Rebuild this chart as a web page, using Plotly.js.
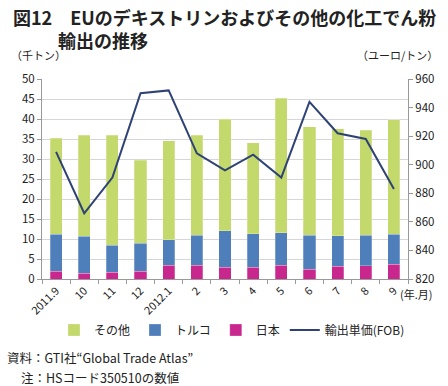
<!DOCTYPE html>
<html><head><meta charset="utf-8">
<script src="https://cdn.plot.ly/plotly-3.0.1.min.js"></script>
<style>body{margin:0;background:#fff}#c{width:448px;height:386px}</style>
</head><body><div id="c"></div>
<script>
const categories = ["2011.9","10","11","12","2012.1","2","3","4","5","6","7","8","9"];
const japan  = [1.9,1.5,1.7,1.9,3.5,3.4,2.9,3.0,3.5,2.5,3.2,3.3,3.7];
const turkey = [9.35,9.2,6.8,7.1,6.3,7.5,9.2,8.3,8.1,8.5,7.6,7.7,7.5];
const other  = [24.0,25.3,27.4,20.7,24.8,25.1,27.9,22.8,33.6,27.1,26.8,26.2,28.6];
const price  = [909,866,891,950,952,908,896,907,891,944,922,918,883];

const F = '"Noto Sans CJK JP", "Noto Sans", sans-serif';
const barLine = {color:'rgba(255,255,255,0.5)', width:0.5};
const traces = [
  {type:'bar', name:'日本', x:categories, y:japan, marker:{color:'#c8288e', line:barLine}, legendrank:3},
  {type:'bar', name:'トルコ', x:categories, y:turkey, marker:{color:'#4f7fbb', line:barLine}, legendrank:2},
  {type:'bar', name:'その他', x:categories, y:other, marker:{color:'#c3d96c', line:barLine}, legendrank:1},
  {type:'scatter', mode:'lines', name:'輸出単価(FOB)', x:categories, y:price, yaxis:'y2',
   line:{color:'#2f4275', width:2}, legendrank:4}
];
const P = (px) => (px-42)/366;
const Q = (py) => (279-py)/200;
const layout = {
  width:448, height:386,
  margin:{l:42, r:40, t:79, b:107, autoexpand:false},
  paper_bgcolor:'#fff', plot_bgcolor:'#fff',
  barmode:'stack', bargap:0.57,
  font:{family:F, size:11, color:'#222'},
  showlegend:true,
  legend:{orientation:'h', traceorder:'normal', xref:'container', yref:'container',
          x:54/448, xanchor:'left', y:1-330/386, yanchor:'middle',
          font:{size:12, family:F}, tracegroupgap:0, bgcolor:'rgba(0,0,0,0)'},
  xaxis:{type:'category', tickangle:-45, ticks:'outside', ticklen:4, tickson:'boundaries',
         tickcolor:'#999', showline:true, linecolor:'#999', showgrid:false, automargin:false,
         tickfont:{size:11, family:F}},
  yaxis:{range:[0,50], dtick:5, ticks:'outside', ticklen:4, tickcolor:'#999', automargin:false,
         showline:true, linecolor:'#999', gridcolor:'#d6d6d6', zeroline:false,
         tickfont:{size:11.5, family:F}},
  yaxis2:{range:[820,960], dtick:20, overlaying:'y', side:'right', ticks:'outside', ticklen:4,
          tickcolor:'#999', showline:true, linecolor:'#999', showgrid:false, zeroline:false,
          automargin:false, tickfont:{size:11.5, family:F}},
  annotations:[
    {xref:'paper', yref:'paper', xanchor:'left', yanchor:'top', align:'left', x:P(11), y:Q(2), showarrow:false,
     text:'<b>図12　EUのデキストリンおよびその他の化工でん粉<br>　　\u2002輸出の推移</b>',
     font:{size:18, family:F, color:'#222'}},
    {xref:'paper', yref:'paper', xanchor:'left', yanchor:'middle', x:P(9), y:Q(55), showarrow:false,
     text:'（千トン）', font:{size:11, family:F}},
    {xref:'paper', yref:'paper', xanchor:'right', yanchor:'middle', x:P(440), y:Q(55), showarrow:false,
     text:'（ユーロ/トン）', font:{size:11, family:F}},
    {xref:'paper', yref:'paper', xanchor:'left', yanchor:'middle', x:P(398), y:Q(294), showarrow:false,
     text:'(年.月)', font:{size:11, family:F}},
    {xref:'paper', yref:'paper', xanchor:'left', yanchor:'middle', x:P(5), y:Q(357), showarrow:false,
     text:'資料：GTI社“Global Trade Atlas”', font:{size:12.5, family:F}},
    {xref:'paper', yref:'paper', xanchor:'left', yanchor:'middle', x:P(19), y:Q(377), showarrow:false,
     text:'注：HSコード350510の数値', font:{size:12.5, family:F}}
  ]
};
Plotly.newPlot('c', traces, layout, {displayModeBar:false, staticPlot:true});
</script></body></html>
